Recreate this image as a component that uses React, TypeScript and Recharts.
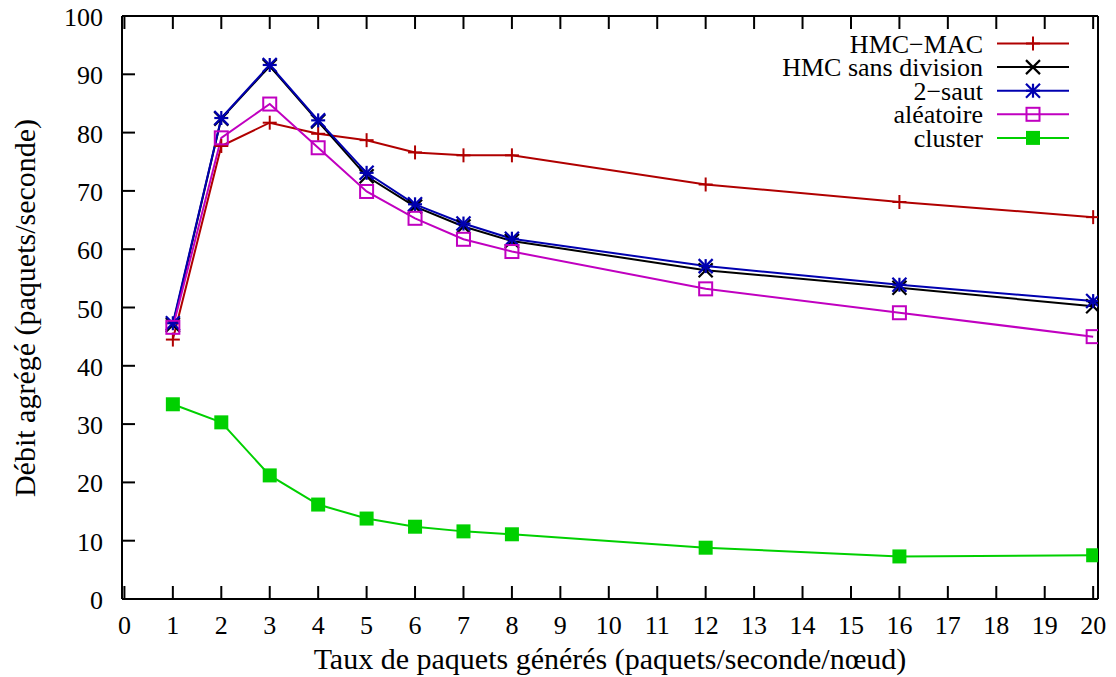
import React from 'react';
import { LineChart, Line, XAxis, YAxis, Legend, Label } from 'recharts';

// packets generated per second per node
const rates = [1, 2, 3, 4, 5, 6, 7, 8, 12, 16, 20];

const hmcMac = [44.5, 77.7, 81.7, 79.8, 78.7, 76.6, 76.1, 76.1, 71.1, 68.1, 65.5];
const hmcSansDivision = [47.0, 82.4, 91.4, 81.9, 72.5, 67.3, 63.9, 61.4, 56.4, 53.4, 50.2];
const deuxSaut = [47.3, 82.5, 91.6, 82.1, 73.1, 67.7, 64.4, 61.8, 57.1, 53.9, 51.1];
const aleatoire = [46.6, 79.1, 84.9, 77.4, 69.9, 65.3, 61.7, 59.6, 53.2, 49.1, 45.0];
const cluster = [33.4, 30.3, 21.2, 16.2, 13.8, 12.4, 11.6, 11.1, 8.8, 7.3, 7.5];

const xTicks = [0, 1, 2, 3, 4, 5, 6, 7, 8, 9, 10, 11, 12, 13, 14, 15, 16, 17, 18, 19, 20];
const yTicks = [0, 10, 20, 30, 40, 50, 60, 70, 80, 90, 100];

type MarkerKind = 'plus' | 'cross' | 'star' | 'openSquare' | 'filledSquare';

const series: { key: string; name: string; color: string; marker: MarkerKind; values: number[] }[] = [
  { key: 'hmcMac', name: 'HMC\u2212MAC', color: '#b00000', marker: 'plus', values: hmcMac },
  { key: 'hmcSans', name: 'HMC sans division', color: '#000000', marker: 'cross', values: hmcSansDivision },
  { key: 'deuxSaut', name: '2\u2212saut', color: '#0000b0', marker: 'star', values: deuxSaut },
  { key: 'aleatoire', name: 'aléatoire', color: '#c000c0', marker: 'openSquare', values: aleatoire },
  { key: 'cluster', name: 'cluster', color: '#00d000', marker: 'filledSquare', values: cluster },
];

const data = rates.map((rate, i) => {
  const row: Record<string, number> = { rate };
  series.forEach((s) => {
    row[s.key] = s.values[i];
  });
  return row;
});

const textStyle: React.CSSProperties = {
  fontFamily: "'Liberation Serif', 'Times New Roman', Times, serif",
  fontSize: 26,
  fill: '#000',
};
const titleStyle: React.CSSProperties = { ...textStyle, fontSize: 30 };
const TICK = 13;

const drawMarker = (kind: MarkerKind, cx: number, cy: number, color: string, key?: string) => {
  const h = 7;
  switch (kind) {
    case 'plus':
      return (
        <g key={key}>
          <line x1={cx - h} y1={cy} x2={cx + h} y2={cy} stroke={color} strokeWidth={2} />
          <line x1={cx} y1={cy - h} x2={cx} y2={cy + h} stroke={color} strokeWidth={2} />
        </g>
      );
    case 'cross':
      return (
        <g key={key}>
          <line x1={cx - h} y1={cy - h} x2={cx + h} y2={cy + h} stroke={color} strokeWidth={2.2} />
          <line x1={cx - h} y1={cy + h} x2={cx + h} y2={cy - h} stroke={color} strokeWidth={2.2} />
        </g>
      );
    case 'star':
      return (
        <g key={key}>
          <line x1={cx - h} y1={cy} x2={cx + h} y2={cy} stroke={color} strokeWidth={2.2} />
          <line x1={cx} y1={cy - h} x2={cx} y2={cy + h} stroke={color} strokeWidth={2.2} />
          <line x1={cx - h} y1={cy - h} x2={cx + h} y2={cy + h} stroke={color} strokeWidth={2.2} />
          <line x1={cx - h} y1={cy + h} x2={cx + h} y2={cy - h} stroke={color} strokeWidth={2.2} />
        </g>
      );
    case 'openSquare':
      return (
        <rect key={key} x={cx - 6.5} y={cy - 6.5} width={13} height={13} fill="none" stroke={color} strokeWidth={2} />
      );
    case 'filledSquare':
      return <rect key={key} x={cx - 7} y={cy - 7} width={14} height={14} fill={color} stroke="none" />;
  }
};

const BottomTick = (props: any) => {
  const { x, y, payload } = props;
  return (
    <g>
      <line x1={x} y1={y} x2={x} y2={y - TICK} stroke="#000" strokeWidth={2} />
      <text x={x} y={y + 35} textAnchor="middle" style={textStyle}>
        {payload.value}
      </text>
    </g>
  );
};

const TopTick = (props: any) => {
  const { x, y } = props;
  return <line x1={x} y1={y} x2={x} y2={y + TICK} stroke="#000" strokeWidth={2} />;
};

const LeftTick = (props: any) => {
  const { x, y, payload } = props;
  return (
    <g>
      <line x1={x} y1={y} x2={x + TICK} y2={y} stroke="#000" strokeWidth={2} />
      <text x={x - 19} y={y + 10} textAnchor="end" style={textStyle}>
        {payload.value}
      </text>
    </g>
  );
};

const RightTick = (props: any) => {
  const { x, y } = props;
  return <line x1={x} y1={y} x2={x - TICK} y2={y} stroke="#000" strokeWidth={2} />;
};

const KeyBox = () => (
  <svg width={1116} height={170} style={{ display: 'block' }}>
    {series.map((s, i) => {
      const y = 43.5 + i * 23.6;
      return (
        <g key={s.key}>
          <text x={983} y={y + 9} textAnchor="end" style={textStyle}>
            {s.name}
          </text>
          <line x1={997} y1={y} x2={1069} y2={y} stroke={s.color} strokeWidth={2} />
          {drawMarker(s.marker, 1033, y, s.color)}
        </g>
      );
    })}
  </svg>
);

export default function App() {
  return (
    <div style={{ position: 'absolute', left: 0, top: 0, width: 1116, height: 677, background: '#fff' }}>
      <LineChart width={1116} height={677} data={data} margin={{ top: 15, right: 17, left: 0, bottom: 0 }}>
        <XAxis
          dataKey="rate"
          type="number"
          domain={[-0.05, 20.1]}
          ticks={xTicks}
          interval={0}
          allowDataOverflow
          height={78}
          tickSize={0}
          tickMargin={0}
          tickLine={false}
          axisLine={{ stroke: '#000', strokeWidth: 2 }}
          tick={<BottomTick />}
        >
          <Label
            content={() => (
              <text x={610} y={669} textAnchor="middle" style={titleStyle}>
                Taux de paquets générés (paquets/seconde/nœud)
              </text>
            )}
          />
        </XAxis>
        <XAxis
          xAxisId="top"
          orientation="top"
          dataKey="rate"
          type="number"
          domain={[-0.05, 20.1]}
          ticks={xTicks}
          interval={0}
          allowDataOverflow
          height={1}
          tickSize={0}
          tickMargin={0}
          tickLine={false}
          axisLine={{ stroke: '#000', strokeWidth: 2 }}
          tick={<TopTick />}
        />
        <YAxis
          type="number"
          domain={[0, 100]}
          ticks={yTicks}
          interval={0}
          width={122}
          tickSize={0}
          tickMargin={0}
          tickLine={false}
          axisLine={{ stroke: '#000', strokeWidth: 2 }}
          tick={<LeftTick />}
        >
          <Label
            content={() => (
              <text x={35} y={308} transform="rotate(-90 35 308)" textAnchor="middle" style={titleStyle}>
                Débit agrégé (paquets/seconde)
              </text>
            )}
          />
        </YAxis>
        <YAxis
          yAxisId="right"
          orientation="right"
          type="number"
          domain={[0, 100]}
          ticks={yTicks}
          interval={0}
          width={1}
          tickSize={0}
          tickMargin={0}
          tickLine={false}
          axisLine={{ stroke: '#000', strokeWidth: 2 }}
          tick={<RightTick />}
        />
        <Legend
          layout="vertical"
          align="center"
          verticalAlign="middle"
          wrapperStyle={{ left: 0, top: 0, width: 1116, height: 170, pointerEvents: 'none' }}
          content={() => <KeyBox />}
        />
        {series.map((s) => (
          <Line
            key={s.key}
            type="linear"
            dataKey={s.key}
            name={s.name}
            stroke={s.color}
            strokeWidth={2}
            isAnimationActive={false}
            dot={(p: any) => drawMarker(s.marker, p.cx, p.cy, s.color, `${s.key}-${p.index}`)}
            activeDot={false}
          />
        ))}
      </LineChart>
    </div>
  );
}
